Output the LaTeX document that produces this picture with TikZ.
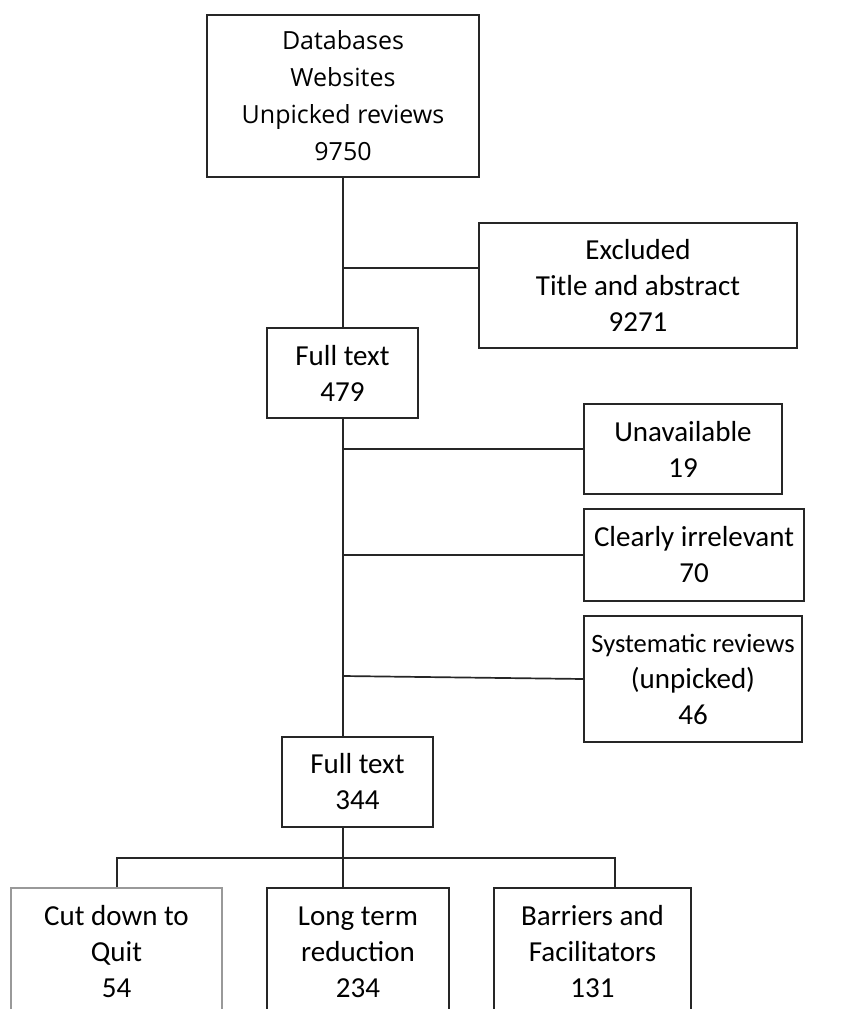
\documentclass[tikz,border=0pt]{standalone}
\usepackage{fontspec}
\setmainfont{Carlito}
\newfontfamily\topfont{Open Sans}
\begin{document}
\begin{tikzpicture}[x=1pt,y=-1pt,
  line/.style={draw=black!85,line width=1.7pt},
  box/.style={rectangle,draw=black!85,line width=1.7pt,inner sep=0pt,align=center,
    font=\fontsize{29}{36}\selectfont,text=black},
  greybox/.style={box,draw=black!40,line width=1.2pt}]
\clip (0,0) rectangle (862,1009);
\fill[white] (0,0) rectangle (862,1009);
% boxes
\node[box,minimum width=272,minimum height=162,font=\topfont\fontsize{25}{37}\selectfont] (top) at (343,96)
  {Databases\\Websites\\Unpicked reviews\\9750};
\node[box,minimum width=318,minimum height=125] (excl) at (638,285.5)
  {Excluded\\Title and abstract\\9271};
\node[box,minimum width=151,minimum height=90] (ft1) at (342.5,373) {Full text\\479};
\node[box,minimum width=198,minimum height=90] (unav) at (683,449) {Unavailable\\19};
\node[box,minimum width=220,minimum height=92] (clear) at (694,555) {Clearly irrelevant\\70};
\node[box,minimum width=218,minimum height=126] (sys) at (693,679)
  {{\fontsize{26.5}{36}\selectfont Systematic reviews}\\(unpicked)\\46};
\node[box,minimum width=151,minimum height=90] (ft2) at (357.5,782) {Full text\\344};
\node[greybox,minimum width=211,minimum height=128] (cut) at (116.5,952) {Cut down to\\Quit\\54};
\node[box,minimum width=182,minimum height=128] (long) at (358,952) {Long term\\reduction\\234};
\node[box,minimum width=197,minimum height=128] (barr) at (592.5,952) {Barriers and\\Facilitators\\131};
% connectors
\coordinate (j1) at (343,268);
\coordinate (j2) at (343,449);
\coordinate (j3) at (343,555);
\coordinate (j4) at (343,676);
\coordinate (s4) at (584,679);
\coordinate (m) at (343,858);
\coordinate (l) at (117,858);
\coordinate (r) at (615,858);
\draw[line] (top.south -| j1) -- (ft1.north -| j1);
\draw[line] (j1) -- (j1 -| excl.west);
\draw[line] (ft1.south -| j2) -- (ft2.north -| j2);
\draw[line] (j2) -- (unav.west);
\draw[line] (j3) -- (clear.west);
\draw[line] (j4) -- (s4);
\draw[line] (ft2.south -| m) -- (long.north -| m);
\draw[line] (l |- cut.north) -- (l) -- (r) -- (r |- barr.north);
\end{tikzpicture}
\end{document}
